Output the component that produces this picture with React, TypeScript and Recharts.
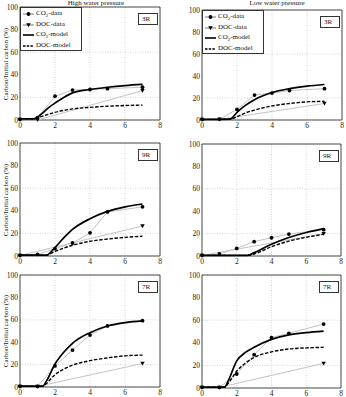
import { LineChart, Line, XAxis, YAxis, CartesianGrid, ReferenceArea } from 'recharts'

// ── Axes ─────────────────────────────────────────────────────────────────────
const X_TICKS = [0, 2, 4, 6, 8]
const Y_TICKS = [0, 20, 40, 60, 80, 100]
const SAMPLE_T = [0, 1, 2, 3, 4, 5, 7]

// ── High water pressure, 3R ──────────────────────────────────────────────────
const H3_CO2 = [0.5, 2, 21, 26.5, 27, 27.7, 29]
const H3_DOC_T = [0, 1, 7]
const H3_DOC = [0.5, 0, 26]
const H3_MODEL_T = [0, 0.8, 1.2, 1.6, 2, 2.5, 3, 4, 5, 6, 7]
const H3_CO2_MODEL = [1, 1, 5, 10.5, 15, 20, 24, 27, 29, 30.5, 31.5]
const H3_DOC_MODEL = [1, 1, 3, 5, 6.8, 8.5, 9.8, 11.2, 12.2, 12.8, 13.2]

// ── Low water pressure, 3R ───────────────────────────────────────────────────
const L3_CO2 = [0.5, 0.8, 9.6, 22.7, 24.5, 26.8, 28.5]
const L3_DOC_T = [0, 1, 7]
const L3_DOC = [0.5, 0.5, 15]
const L3_MODEL_T = [0, 1.6, 2, 2.5, 3, 4, 5, 6, 7]
const L3_CO2_MODEL = [0.5, 0.8, 7, 13.5, 18.5, 25, 28.5, 30.8, 32.3]
const L3_DOC_MODEL = [0.5, 0.8, 3, 6.5, 9, 12.8, 15, 16.5, 17]

// ── High water pressure, 9R ──────────────────────────────────────────────────
const H9_CO2 = [0.5, 1.5, 6.5, 11.5, 20.5, 39, 43.5]
const H9_DOC_T = [0, 7]
const H9_DOC = [0.5, 26.5]
const H9_MODEL_T = [0, 1.5, 2, 2.5, 3, 4, 5, 6, 7]
const H9_CO2_MODEL = [0.8, 0.8, 7.5, 16, 23.5, 33, 39.5, 43.5, 46]
const H9_DOC_MODEL = [0.8, 0.8, 4, 7, 9.5, 13, 15, 16.5, 17.5]

// ── Low water pressure, 9R ───────────────────────────────────────────────────
const L9_CO2 = [0.5, 1.8, 6.8, 12.8, 16.3, 19.6, 23.5]
const L9_DOC_T = [0, 7]
const L9_DOC = [0.5, 20]
const L9_MODEL_T = [0, 2.6, 3, 4, 5, 6, 7]
const L9_CO2_MODEL = [0.6, 0.6, 3, 10.5, 16.5, 21, 24.5]
const L9_DOC_MODEL = [0.6, 0.6, 1.8, 8.3, 13.3, 16.7, 19.4]

// ── High water pressure, 7R ──────────────────────────────────────────────────
const H7_CO2 = [0.5, 0.5, 18.8, 33, 46.4, 54.5, 59.2]
const H7_DOC_T = [0, 1, 7]
const H7_DOC = [0.5, 0.5, 21]
const H7_MODEL_T = [0, 1.3, 1.5, 2, 2.5, 3, 4, 5, 6, 7]
const H7_CO2_MODEL = [0.8, 0.8, 5, 20.5, 31, 39, 48.5, 54.5, 57.5, 59]
const H7_DOC_MODEL = [0.8, 0.8, 3, 11, 16, 19.5, 23.5, 26, 27.8, 28.5]

// ── Low water pressure, 7R ───────────────────────────────────────────────────
const L7_CO2 = [0.5, 0.5, 12.4, 29.5, 44.5, 48.4, 56.6]
const L7_DOC_T = [0, 1, 7]
const L7_DOC = [0.5, 0.5, 21.8]
const L7_MODEL_T = [0, 1.3, 1.5, 2, 2.5, 3, 4, 5, 6, 7]
const L7_CO2_MODEL = [0.8, 0.8, 6, 24, 31.5, 36, 43, 47, 49, 50.3]
const L7_DOC_MODEL = [0.8, 0.8, 4, 15, 22, 27, 32, 34.5, 35.5, 36]

type Pt = { t: number; v: number }
const pts = (t: number[], v: number[]): Pt[] => t.map((x, i) => ({ t: x, v: v[i] }))

const FONT = '"Liberation Serif", "DejaVu Serif", serif'
const TICK = { fontSize: 7.5, fill: '#222', fontFamily: FONT }
const GRAY = '#c4c4c4'

type PanelSpec = {
  tag: string
  left: number
  top: number
  w: number
  h: number
  co2: Pt[]
  doc: Pt[]
  co2Model: Pt[]
  docModel: Pt[]
  yLabel?: boolean
  legend?: boolean
}

const circleDot = (p: any) => (
  <circle key={`c${p.index}`} cx={p.cx} cy={p.cy} r={1.9} fill="#000" />
)
const triDot = (p: any) => (
  <path
    key={`d${p.index}`}
    d={`M${p.cx - 2.2},${p.cy - 1.7}L${p.cx + 2.2},${p.cy - 1.7}L${p.cx},${p.cy + 2.1}Z`}
    fill="#000"
  />
)

function LegendBox({ left, top }: { left: number; top: number }) {
  const row = { display: 'flex', alignItems: 'center', height: 10.5 }
  const icon = (kind: string) => (
    <svg width={11} height={8} style={{ marginRight: 2 }}>
      {kind === 'co2' && <><line x1={0} y1={4} x2={11} y2={4} stroke="#555" strokeWidth={0.8} /><circle cx={5.5} cy={4} r={1.9} fill="#000" /></>}
      {kind === 'doc' && <><line x1={0} y1={4} x2={11} y2={4} stroke="#555" strokeWidth={0.8} /><path d="M3.3,2.3L7.7,2.3L5.5,6.2Z" fill="#000" /></>}
      {kind === 'co2m' && <line x1={0} y1={4} x2={11} y2={4} stroke="#000" strokeWidth={1.6} />}
      {kind === 'docm' && <line x1={0} y1={4} x2={11} y2={4} stroke="#000" strokeWidth={1.4} strokeDasharray="2.5 1.2" />}
    </svg>
  )
  const sub = { fontSize: 5, verticalAlign: 'sub' as const }
  return (
    <div
      style={{
        position: 'absolute', left, top, width: 62, height: 44,
        border: '0.8px solid #333', background: '#fff', boxSizing: 'border-box',
        padding: '1px 0 0 2px', fontFamily: FONT, fontSize: 7, color: '#111', lineHeight: 1,
      }}
    >
      <div style={row}>{icon('co2')}<span>CO<span style={sub}>2</span>-data</span></div>
      <div style={row}>{icon('doc')}<span>DOC-data</span></div>
      <div style={row}>{icon('co2m')}<span>CO<span style={sub}>2</span>-model</span></div>
      <div style={row}>{icon('docm')}<span>DOC-model</span></div>
    </div>
  )
}

function Panel({ spec }: { spec: PanelSpec }) {
  const { left, top, w, h } = spec
  const mTop = 7
  const yAxisW = 20
  const xAxisH = 15
  return (
    <>
      <div style={{ position: 'absolute', left: left - yAxisW, top: top - mTop }}>
        <LineChart
          width={w + yAxisW + 8}
          height={h + mTop + xAxisH}
          margin={{ top: mTop, right: 8, left: 0, bottom: 0 }}
        >
          <CartesianGrid stroke="#c4c4c4" strokeDasharray="1 1.5" strokeWidth={0.7} />
          <XAxis
            type="number" dataKey="t" domain={[0, 8]} ticks={X_TICKS} height={xAxisH}
            tick={TICK} tickLine={false} axisLine={false} tickSize={2} tickMargin={1}
          />
          <YAxis
            type="number" dataKey="v" domain={[0, 100]} ticks={Y_TICKS} width={yAxisW}
            tick={TICK} tickLine={false} axisLine={false} tickSize={1} tickMargin={1}
          />
          <ReferenceArea x1={0} x2={8} y1={0} y2={100} fill="none" stroke="#222" strokeWidth={0.8} />
          <Line data={spec.doc} dataKey="v" stroke={GRAY} strokeWidth={1} dot={triDot} isAnimationActive={false} />
          <Line data={spec.co2} dataKey="v" stroke={GRAY} strokeWidth={1} dot={circleDot} isAnimationActive={false} />
          <Line data={spec.docModel} dataKey="v" type="monotone" stroke="#000" strokeWidth={1.4} strokeDasharray="3.5 1.6" dot={false} isAnimationActive={false} />
          <Line data={spec.co2Model} dataKey="v" type="monotone" stroke="#000" strokeWidth={1.7} dot={false} isAnimationActive={false} />
        </LineChart>
      </div>
      <div
        style={{
          position: 'absolute', left: left + w - 22, top: top + 6, width: 20, height: 12,
          border: '0.8px solid #333', background: '#fff', boxSizing: 'border-box',
          fontFamily: FONT, fontSize: 7, lineHeight: '11px', paddingLeft: 3, color: '#111',
        }}
      >
        {spec.tag}
      </div>
      {spec.legend && <LegendBox left={left} top={top} />}
      {spec.yLabel && (
        <div
          style={{
            position: 'absolute', left: 6, top: top + h / 2, width: 0, height: 0,
          }}
        >
          <div
            style={{
              position: 'absolute', transform: 'translate(-50%, -50%) rotate(-90deg)',
              whiteSpace: 'nowrap', fontFamily: FONT, fontSize: 7, color: '#111',
            }}
          >
            Carbon/Initial carbon (%)
          </div>
        </div>
      )}
    </>
  )
}

const PANELS: PanelSpec[] = [
  {
    tag: '3R', left: 20, top: 7, w: 140, h: 113, yLabel: true, legend: true,
    co2: pts(SAMPLE_T, H3_CO2), doc: pts(H3_DOC_T, H3_DOC),
    co2Model: pts(H3_MODEL_T, H3_CO2_MODEL), docModel: pts(H3_MODEL_T, H3_DOC_MODEL),
  },
  {
    tag: '3R', left: 202, top: 10, w: 140, h: 110, legend: true,
    co2: pts(SAMPLE_T, L3_CO2), doc: pts(L3_DOC_T, L3_DOC),
    co2Model: pts(L3_MODEL_T, L3_CO2_MODEL), docModel: pts(L3_MODEL_T, L3_DOC_MODEL),
  },
  {
    tag: '9R', left: 20, top: 143, w: 140, h: 113, yLabel: true,
    co2: pts(SAMPLE_T, H9_CO2), doc: pts(H9_DOC_T, H9_DOC),
    co2Model: pts(H9_MODEL_T, H9_CO2_MODEL), docModel: pts(H9_MODEL_T, H9_DOC_MODEL),
  },
  {
    tag: '9R', left: 202, top: 144, w: 139, h: 112,
    co2: pts(SAMPLE_T, L9_CO2), doc: pts(L9_DOC_T, L9_DOC),
    co2Model: pts(L9_MODEL_T, L9_CO2_MODEL), docModel: pts(L9_MODEL_T, L9_DOC_MODEL),
  },
  {
    tag: '7R', left: 20, top: 275, w: 140, h: 112, yLabel: true,
    co2: pts(SAMPLE_T, H7_CO2), doc: pts(H7_DOC_T, H7_DOC),
    co2Model: pts(H7_MODEL_T, H7_CO2_MODEL), docModel: pts(H7_MODEL_T, H7_DOC_MODEL),
  },
  {
    tag: '7R', left: 202, top: 275, w: 139, h: 113,
    co2: pts(SAMPLE_T, L7_CO2), doc: pts(L7_DOC_T, L7_DOC),
    co2Model: pts(L7_MODEL_T, L7_CO2_MODEL), docModel: pts(L7_MODEL_T, L7_DOC_MODEL),
  },
]

export default function App() {
  const title = (text: string, cx: number) => (
    <div
      style={{
        position: 'absolute', left: cx - 60, top: 0, width: 120, textAlign: 'center',
        fontFamily: FONT, fontSize: 7, lineHeight: 1, color: '#111',
      }}
    >
      {text}
    </div>
  )
  return (
    <div
      style={{
        position: 'absolute', left: 0, top: 0, width: 346, height: 397,
        background: '#fff', overflow: 'hidden',
      }}
    >
      {title('High water pressure', 96)}
      {title('Low water pressure', 277)}
      {PANELS.map((p, i) => <Panel key={i} spec={p} />)}
    </div>
  )
}
